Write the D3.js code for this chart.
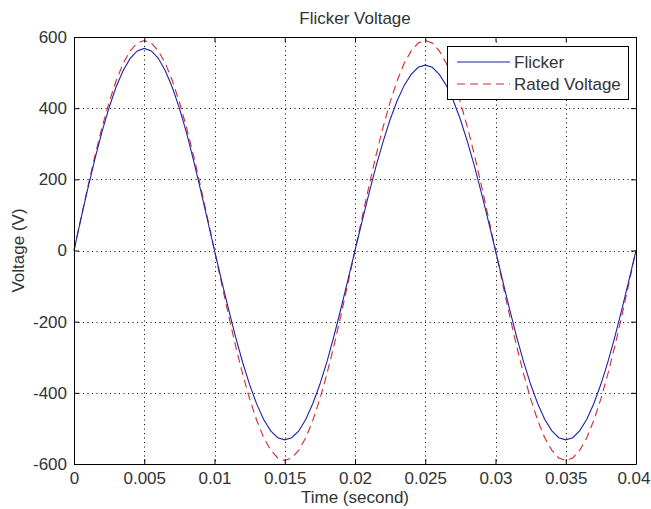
<!DOCTYPE html>
<html><head><meta charset="utf-8">
<script src="https://cdn.jsdelivr.net/npm/d3@7"></script>
<style>
html,body{margin:0;padding:0;background:#fff;}
svg{display:block;font-family:"Liberation Sans",Arial,sans-serif;}
</style></head>
<body>
<svg id="c" width="651" height="509"></svg>
<script>
// time axis: 0 .. 0.04 s in 0.0005 s steps
const timeStep = 0.0005;
const nPoints = 81;
// Rated voltage (V)
const ratedVoltage = [
  0,92,182,268,347,417,477,526,561,583,590,583,561,526,477,417,347,268,182,92,
  0,-92,-182,-268,-347,-417,-477,-526,-561,-583,-590,-583,-561,-526,-477,-417,-347,-268,-182,-92,
  0,92,182,268,347,417,477,526,561,583,590,583,561,526,477,417,347,268,182,92,
  0,-92,-182,-268,-347,-417,-477,-526,-561,-583,-590,-583,-561,-526,-477,-417,-347,-268,-182,-92,
  0
];
// Flicker voltage (V)
const flickerVoltage = [
  0,90,177,259,335,402,460,506,540,561,568,561,540,505,458,400,332,255,172,86,
  0,-84,-165,-243,-314,-377,-431,-475,-507,-526,-532,-526,-507,-474,-430,-376,-313,-241,-163,-82,
  0,81,161,237,306,368,421,464,495,515,521,515,495,464,421,368,306,237,161,81,
  0,-83,-164,-242,-313,-376,-430,-474,-506,-526,-532,-526,-506,-474,-430,-376,-313,-242,-164,-83,
  0
];
const xTicks = [0,0.005,0.01,0.015,0.02,0.025,0.03,0.035,0.04];
const xTickLabels = ["0","0.005","0.01","0.015","0.02","0.025","0.03","0.035","0.04"];
const yTicks = [-600,-400,-200,0,200,400,600];
const yTickLabels = ["-600","-400","-200","0","200","400","600"];
const seriesNames = ["Flicker","Rated Voltage"];
const titleText = "Flicker Voltage";
const xLabelText = "Time (second)";
const yLabelText = "Voltage (V)";

const times = d3.range(nPoints).map(i => +(i*timeStep).toFixed(4));

const svg = d3.select("#c");
const L=74, R=636, T=37, B=464;
const x = d3.scaleLinear().domain([0,0.04]).range([L,R]);
const y = d3.scaleLinear().domain([-600,600]).range([B,T]);
const fs = 17;
const txt = "#333";

// grid
const grid = svg.append("g").attr("stroke","#000").attr("stroke-width",1).attr("stroke-dasharray","1,3.5");
xTicks.slice(1,-1).forEach(v=>grid.append("line").attr("x1",Math.round(x(v))+0.5).attr("x2",Math.round(x(v))+0.5).attr("y1",T).attr("y2",B));
yTicks.slice(1,-1).forEach(v=>grid.append("line").attr("y1",Math.round(y(v))+0.5).attr("y2",Math.round(y(v))+0.5).attr("x1",L).attr("x2",R));

// lines
const line = d3.line().x((d,i)=>x(times[i])).y(d=>y(d)).curve(d3.curveLinear);
svg.append("path").datum(ratedVoltage).attr("d",line).attr("fill","none")
  .attr("stroke","#d42a2a").attr("stroke-width",1.1).attr("stroke-dasharray","8,5");
svg.append("path").datum(flickerVoltage).attr("d",line).attr("fill","none")
  .attr("stroke","#1c24a8").attr("stroke-width",1.1);

// axes (box with inward ticks)
const tl = 5;
const axB = d3.axisBottom(x).tickValues(xTicks).tickFormat((d,i)=>xTickLabels[i]).tickSizeInner(-tl).tickSizeOuter(0).tickPadding(8);
const axT = d3.axisTop(x).tickValues(xTicks).tickFormat("").tickSizeInner(-tl).tickSizeOuter(0);
const axL = d3.axisLeft(y).tickValues(yTicks).tickFormat((d,i)=>yTickLabels[i]).tickSizeInner(-tl).tickSizeOuter(0).tickPadding(7);
const axR = d3.axisRight(y).tickValues(yTicks).tickFormat("").tickSizeInner(-tl).tickSizeOuter(0);
function style(g){g.select(".domain").attr("stroke","#000");g.selectAll("line").attr("stroke","#000");
  g.selectAll("text").attr("fill",txt).style("font-size",fs+"px").style("font-family","Liberation Sans, Arial, sans-serif");}
const gB = svg.append("g").attr("transform",`translate(0,${B})`).call(axB).call(style);
// keep the last label inside the picture edge
gB.selectAll(".tick text").filter(d=>d===0.04).attr("text-anchor","end").attr("dx",(651 - 1 - R)+"px");
svg.append("g").attr("transform",`translate(0,${T})`).call(axT).call(style);
svg.append("g").attr("transform",`translate(${L},0)`).call(axL).call(style);
svg.append("g").attr("transform",`translate(${R},0)`).call(axR).call(style);

// labels
svg.append("text").attr("x",(L+R)/2).attr("y",24).attr("text-anchor","middle").style("font-size",fs+"px").attr("fill",txt).text(titleText);
svg.append("text").attr("x",(L+R)/2).attr("y",503).attr("text-anchor","middle").style("font-size",fs+"px").attr("fill",txt).text(xLabelText);
svg.append("text").attr("transform",`translate(24,${(T+B)/2}) rotate(-90)`).attr("text-anchor","middle").style("font-size",fs+"px").attr("fill",txt).text(yLabelText);

// legend
const lg = svg.append("g");
lg.append("rect").attr("x",447.5).attr("y",46.5).attr("width",181).attr("height",53).attr("fill","#fff").attr("stroke","#000");
const colors = ["#1c24a8","#d42a2a"], dashes = [null,"8,5"];
seriesNames.forEach((n,i)=>{
  const yy = 62 + i*22;
  lg.append("line").attr("x1",457).attr("x2",510).attr("y1",yy).attr("y2",yy).attr("stroke",colors[i]).attr("stroke-width",1.1).attr("stroke-dasharray",dashes[i]);
  lg.append("text").attr("x",514).attr("y",yy+6).style("font-size",fs+"px").attr("fill",txt).text(n);
});
</script>
</body></html>
